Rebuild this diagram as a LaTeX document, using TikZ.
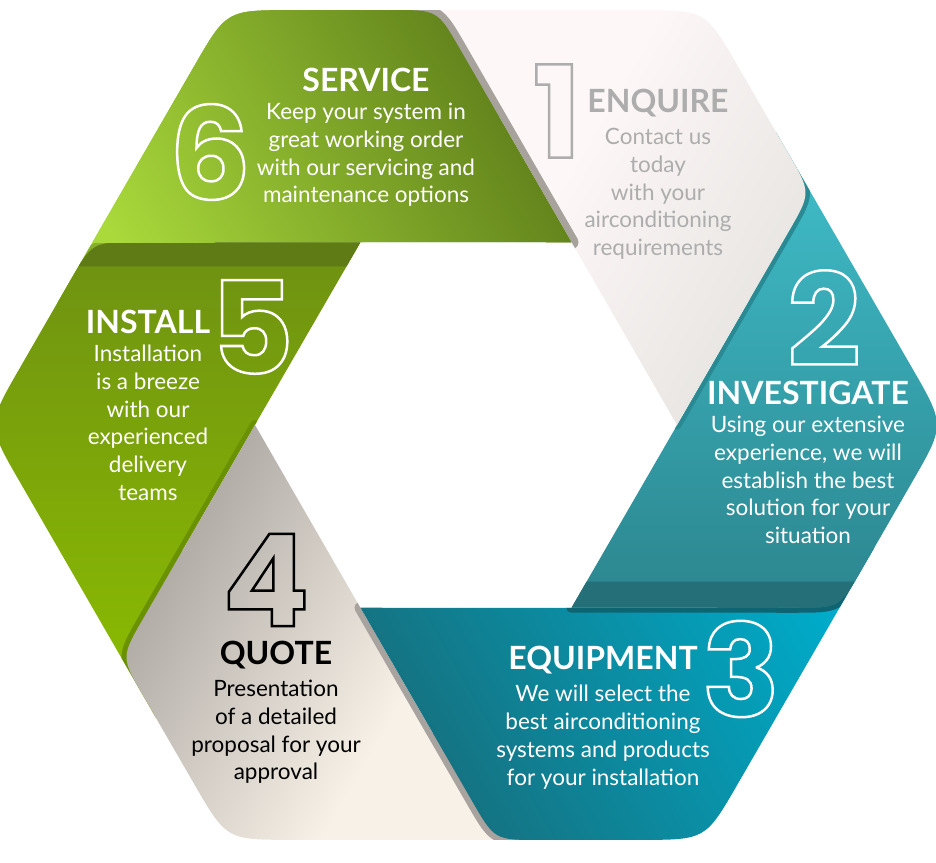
\documentclass[tikz,border=0pt]{standalone}
\usepackage{fontspec}
\setmainfont{Lato}
\newfontfamily\numfont{Poppins}
\usetikzlibrary{calc,positioning}

\definecolor{serviceLight}{HTML}{A9D93B}
\definecolor{serviceDark}{HTML}{5E7E1A}
\definecolor{serviceShadow}{HTML}{86B02C}
\definecolor{enquireLight}{HTML}{FDF7F7}
\definecolor{enquireDark}{HTML}{E6E4E1}
\definecolor{enquireText}{HTML}{ADADAD}
\definecolor{enquireShadow}{HTML}{A8A29C}
\definecolor{investLight}{HTML}{40C0CC}
\definecolor{investDark}{HTML}{2C858E}
\definecolor{investFold}{HTML}{246F78}
\definecolor{investShadow}{HTML}{2A8A93}
\definecolor{equipLight}{HTML}{00AAC8}
\definecolor{equipDark}{HTML}{166F7D}
\definecolor{equipShadow}{HTML}{0E6571}
\definecolor{quoteLight}{HTML}{F7F1E7}
\definecolor{quoteDark}{HTML}{A9A49F}
\definecolor{quoteShadow}{HTML}{A8A39E}
\definecolor{installLight}{HTML}{8DBE00}
\definecolor{installDark}{HTML}{6E9112}
\definecolor{installFold}{HTML}{5E7B16}
\definecolor{installShadow}{HTML}{6A9200}

\pgfdeclarehorizontalshading{serviceShade}{100bp}{color(0bp)=(serviceLight); color(25bp)=(serviceLight); color(75bp)=(serviceDark); color(100bp)=(serviceDark)}
\pgfdeclarehorizontalshading{enquireShade}{100bp}{color(0bp)=(enquireLight); color(45bp)=(enquireLight); color(75bp)=(enquireDark); color(100bp)=(enquireDark)}
\pgfdeclarehorizontalshading{investShade}{100bp}{color(0bp)=(investLight); color(25bp)=(investLight); color(75bp)=(investDark); color(100bp)=(investDark)}
\pgfdeclarehorizontalshading{equipShade}{100bp}{color(0bp)=(equipLight); color(25bp)=(equipLight); color(75bp)=(equipDark); color(100bp)=(equipDark)}
\pgfdeclarehorizontalshading{quoteShade}{100bp}{color(0bp)=(quoteLight); color(40bp)=(quoteLight); color(75bp)=(quoteDark); color(100bp)=(quoteDark)}
\pgfdeclarehorizontalshading{installShade}{100bp}{color(0bp)=(installLight); color(25bp)=(installLight); color(75bp)=(installDark); color(100bp)=(installDark)}

% one ribbon of the ring, turned by #1 degrees
\newcommand{\bandpath}[1]{%
  (#1+163.3:426.3)
  -- ($(#1+120:479)!65pt!(#1+163.3:426.3)$)
  .. controls (#1+120:479) .. ($(#1+120:479)!65pt!(#1+93.94:416)$)
  -- ($(#1+93.94:416)!45pt!(#1+120:479)$)
  .. controls (#1+93.94:416) .. ($(#1+93.94:416)!45pt!(#1+60:211)$)
  -- (#1+60:211) -- (#1+143.8:309.8) -- cycle}
% darker fold along the end of a ribbon
\newcommand{\foldstrip}[2]{%
  (#1+27:182.9) -- (#1+97.05:468.5)
  -- ($(#1+97.05:468.5)+(#1+210:#2)$) -- ($(#1+27:182.9)+(#1+210:#2)$) -- cycle}
\newcommand{\hollow}[2]{{\color{#1}\special{pdf:literal direct 2.5 w 1 Tr}#2\special{pdf:literal direct 0 Tr}}}

\begin{document}
\begin{tikzpicture}[x=1pt, y=1pt,
  headline/.style={font=\bfseries\fontsize{32}{32}\selectfont, text=white, inner sep=0pt},
  blurb/.style={font=\fontsize{22.5}{27.7}\selectfont, text=white, align=center, inner sep=0pt},
  numeral/.style={font=\numfont\bfseries\fontsize{128}{128}\selectfont, inner sep=0pt}
]
  \useasboundingbox (-466,-437) rectangle (470,425);
  \fill[white] (-466,-437) rectangle (470,425);

  % ribbons, each one lying on the next
  \shade[shading=serviceShade, shading angle=30] \bandpath{0};
  \begin{scope}
    \clip \bandpath{0};
    \draw[line width=8pt, serviceShadow, line join=round] \bandpath{60};
  \end{scope}

  \shade[shading=installShade, shading angle=90] \bandpath{60};
  \begin{scope}
    \clip \bandpath{60};
    \fill[installFold] \foldstrip{60}{24};
    \draw[line width=10pt, installShadow, line join=round] \bandpath{120};
  \end{scope}

  \shade[shading=quoteShade, shading angle=150] \bandpath{120};
  \begin{scope}
    \clip \bandpath{120};
    \draw[line width=12pt, quoteShadow, line join=round] \bandpath{180};
  \end{scope}

  \shade[shading=equipShade, shading angle=210] \bandpath{180};
  \begin{scope}
    \clip \bandpath{180};
    \draw[line width=10pt, equipShadow, line join=round] \bandpath{240};
  \end{scope}

  \shade[shading=investShade, shading angle=270] \bandpath{240};
  \begin{scope}
    \clip \bandpath{240};
    \fill[investFold] \foldstrip{240}{26};
    \draw[line width=9pt, investShadow, line join=round] \bandpath{300};
  \end{scope}

  \shade[shading=enquireShade, shading angle=330] \bandpath{300};
  \begin{scope}
    \clip \bandpath{300};
    \draw[line width=14pt, enquireShadow, line join=round] \bandpath{0};
  \end{scope}

  % service again, over the start of enquire
  \begin{scope}
    \clip (-480,182.8) rectangle (480,430);
    \shade[shading=serviceShade, shading angle=30] \bandpath{0};
  \end{scope}

  % texts
  \node[headline] (svc-head) at (-100,345) {SERVICE};
  \node[blurb, below=11pt of svc-head] (svc-text) {Keep your system in\\great working order\\with our servicing and\\maintenance options};
  \node[numeral] (svc-num) at (-256,273) {\hollow{white}{6}};

  \node[headline, text=enquireText] (enq-head) at (192,322) {ENQUIRE};
  \node[blurb, text=enquireText, below=11pt of enq-head] (enq-text) {Contact us\\today\\with your\\airconditioning\\requirements};
  \node[numeral] (enq-num) at (91,314) {\hollow{enquireText}{1}};

  \node[headline] (inv-head) at (342,32) {INVESTIGATE};
  \node[blurb, below=11pt of inv-head] (inv-text) {Using our extensive\\experience, we will\\establish the best\\solution for your\\situation};
  \node[numeral] (inv-num) at (358,107) {\hollow{white}{2}};

  \node[headline] (eqp-head) at (137,-235) {EQUIPMENT};
  \node[blurb, below=11pt of eqp-head] (eqp-text) {We will select the\\best airconditioning\\systems and products\\for your installation};
  \node[numeral] (eqp-num) at (275,-244) {\hollow{white}{3}};

  \node[headline, text=black] (quo-head) at (-190,-230) {QUOTE};
  \node[blurb, text=black, below=11pt of quo-head] (quo-text) {Presentation\\of a detailed\\proposal for your\\approval};
  \node[numeral] (quo-num) at (-200,-155) {\hollow{black}{4}};

  \node[headline] (ins-head) at (-318,103) {INSTALL};
  \node[blurb, below=11pt of ins-head] (ins-text) {Installation\\is a breeze\\with our\\experienced\\delivery\\teams};
  \node[numeral] (ins-num) at (-214,98) {\hollow{white}{5}};
\end{tikzpicture}
\end{document}
